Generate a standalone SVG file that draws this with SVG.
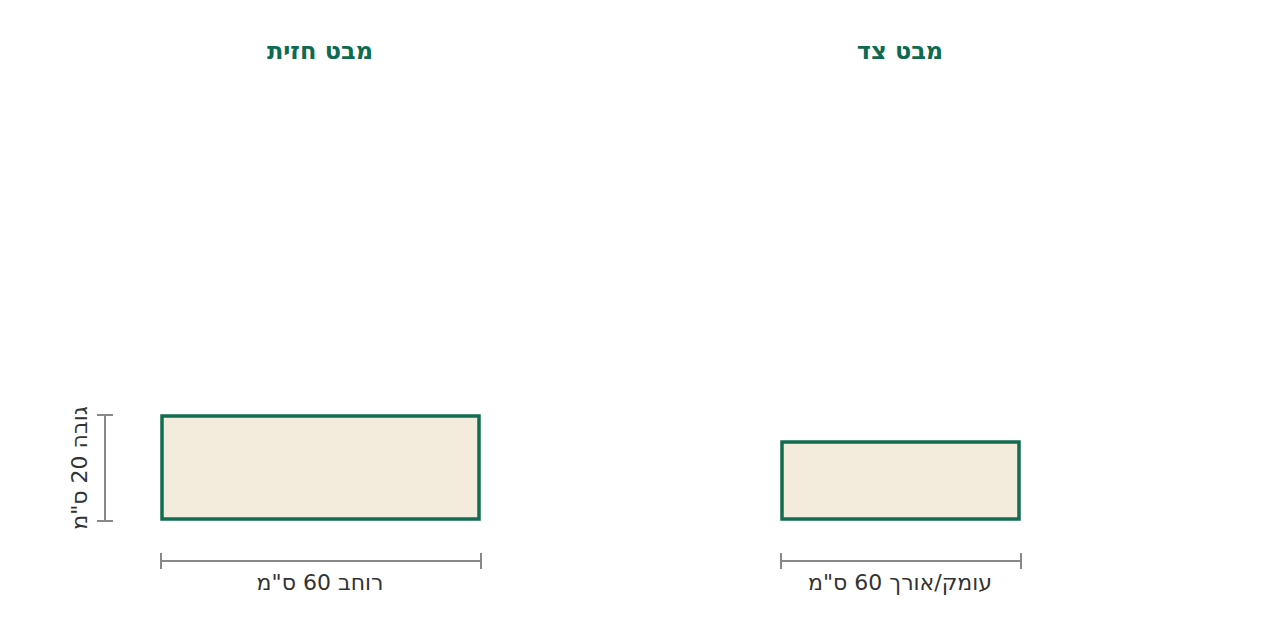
<svg xmlns="http://www.w3.org/2000/svg" width="1280" height="640" viewBox="0 0 1280 640">
<style>
.title{font-family:"DejaVu Sans","Noto Sans",sans-serif;font-size:24px;font-weight:bold;fill:#0f6b50;text-anchor:middle}
.lbl{font-family:"DejaVu Sans","Noto Sans",sans-serif;font-size:22px;fill:#333333;text-anchor:middle}
.box{fill:#f3ecdc;stroke:#126c51;stroke-width:3.5}
.dim{stroke:#888888;stroke-width:2;fill:none}
</style>
<rect width="1280" height="640" fill="#ffffff"/>
<g id="front-view">
<text class="title" x="320" y="59" direction="rtl">מבט חזית</text>
<rect class="box" x="162" y="416" width="317" height="103"/>
</g>
<g id="side-view">
<text class="title" x="900" y="59" direction="rtl">מבט צד</text>
<rect class="box" x="782" y="442" width="237" height="77"/>
</g>
<g id="connectors">
<path class="dim" d="M161 561H481M161 553V569M481 553V569"/>
<path class="dim" d="M781 561H1021M781 553V569M1021 553V569"/>
<path class="dim" d="M105 415V521M97 415H113M97 521H113"/>
</g>
<g id="labels">
<text class="lbl" x="320" y="590" direction="rtl">רוחב 60 ס"מ</text>
<text class="lbl" x="900" y="590" direction="rtl">עומק/אורך 60 ס"מ</text>
<text class="lbl" transform="translate(87 468) rotate(-90)" x="0" y="0" direction="rtl">גובה 20 ס"מ</text>
</g>
</svg>
